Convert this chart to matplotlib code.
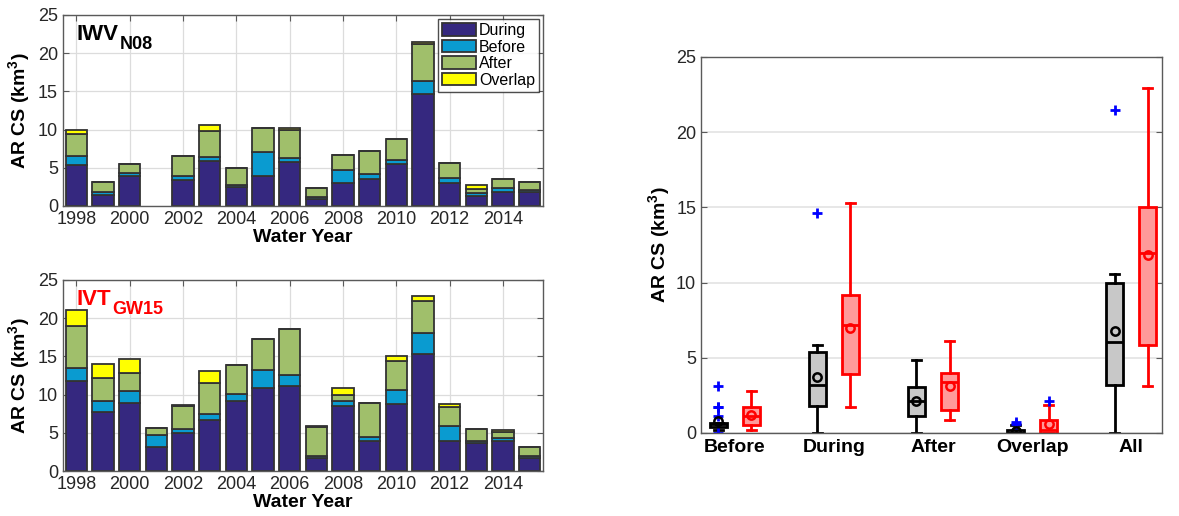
import numpy as np
import matplotlib.pyplot as plt

plt.rcParams['font.family'] = ['Liberation Sans', 'DejaVu Sans']
plt.rcParams['mathtext.fontset'] = 'custom'
plt.rcParams['mathtext.rm'] = 'Liberation Sans:bold'
plt.rcParams['mathtext.bf'] = 'Liberation Sans:bold'
plt.rcParams['mathtext.default'] = 'rm'

years = np.arange(1998, 2016)

# AR cool-season contributions per water year, IWV (N08) detection
iwv_during = [5.4, 1.45, 3.93, 0, 3.35, 5.85, 2.5, 3.93, 5.7, 0.85, 2.95, 3.5, 5.45, 14.65, 3.0, 1.3, 1.85, 1.8]
iwv_before = [1.1, 0.4, 0.45, 0, 0.6, 0.55, 0.2, 3.1, 0.6, 0.35, 1.75, 0.65, 0.6, 1.75, 0.6, 0.45, 0.55, 0.3]
iwv_after = [2.95, 1.25, 1.1, 0, 2.55, 3.4, 2.3, 3.15, 3.65, 1.1, 2.0, 3.05, 2.7, 4.85, 2.0, 0.45, 1.1, 1.1]
iwv_overlap = [0.5, 0.1, 0, 0, 0, 0.75, 0, 0, 0.3, 0, 0, 0, 0, 0.2, 0, 0.6, 0, 0]

# IVT (GW15) detection
ivt_during = [11.8, 7.7, 8.95, 3.2, 5.0, 6.65, 9.15, 10.85, 11.1, 1.75, 8.45, 3.9, 8.75, 15.3, 3.95, 3.65, 3.9, 1.7]
ivt_before = [1.7, 1.5, 1.5, 1.45, 0.55, 0.85, 0.9, 2.4, 1.4, 0.2, 0.65, 0.5, 1.85, 2.8, 2.0, 0.3, 0.4, 0.25]
ivt_after = [5.45, 2.95, 2.4, 0.95, 3.0, 4.0, 3.85, 4.0, 6.1, 3.75, 0.9, 4.5, 3.8, 4.2, 2.4, 1.5, 0.85, 1.2]
ivt_overlap = [2.15, 1.85, 1.8, 0, 0.1, 1.55, 0, 0, 0, 0.15, 0.85, 0, 0.65, 0.65, 0.4, 0.1, 0.2, 0]

parts = ['During', 'Before', 'After', 'Overlap']
colors = ['#35287f', '#0a9bd0', '#a0bf6b', '#ffff00']
categories = ['Before', 'During', 'After', 'Overlap', 'All']

edge = '#333333'
frame = '#5a5a5a'


def style_axes(ax):
    for s in ax.spines.values():
        s.set_color(frame)
        s.set_linewidth(1.0)
    ax.tick_params(direction='in', top=True, right=True, labelsize=13,
                   colors=frame, labelcolor='#262626', length=4)
    ax.set_axisbelow(True)


def stacked(ax, series):
    bottom = np.zeros(len(years))
    for vals, c, name in zip(series, colors, parts):
        vals = np.asarray(vals, float)
        # empty years get no outline
        lw = np.where(bottom + vals > 0, 1.3, 0)
        ax.bar(years, vals, 0.8, bottom=bottom, color=c, edgecolor=edge,
               linewidth=lw, label=name)
        bottom += vals
    ax.set_xlim(1997.5, 2015.5)
    ax.set_ylim(0, 25)
    ax.set_xticks(np.arange(1998, 2015, 2))
    ax.set_yticks(np.arange(0, 26, 5))
    ax.grid(True, color='#dcdcdc', linewidth=0.9)
    style_axes(ax)
    ax.set_xlabel('Water Year', fontsize=14, fontweight='bold', labelpad=1)
    ax.set_ylabel(r'AR CS (km$^3$)', fontsize=14, fontweight='bold', labelpad=4)


def label(ax, main, sub, color):
    t = ax.text(0.028, 0.955, main, transform=ax.transAxes, fontsize=16,
                fontweight='bold', color=color, va='top', ha='left')
    ax.annotate(sub, xy=(1, 0), xycoords=t, xytext=(1, -6),
                textcoords='offset points', fontsize=13, fontweight='bold',
                color=color, va='bottom', ha='left')


def box_stats(vals):
    x = np.sort(np.asarray(vals, float))
    q1, med, q3 = np.percentile(x, [25, 50, 75], method='hazen')
    iqr = q3 - q1
    lo, hi = q1 - 1.5 * iqr, q3 + 1.5 * iqr
    inside = x[(x >= lo) & (x <= hi)]
    return dict(med=med, q1=q1, q3=q3, whislo=inside.min(), whishi=inside.max(),
                mean=x.mean(), fliers=x[(x < lo) | (x > hi)])


fig = plt.figure(figsize=(11.79, 5.16), dpi=100)

ax1 = fig.add_axes([0.0534, 0.6008, 0.4071, 0.3702])
stacked(ax1, [iwv_during, iwv_before, iwv_after, iwv_overlap])
label(ax1, 'IWV', 'N08', 'black')
leg = ax1.legend(loc='upper right', fontsize=11.5, frameon=True, fancybox=False,
                 borderaxespad=0.25, labelspacing=0.1, handlelength=2.1,
                 handleheight=0.8, handletextpad=0.2, borderpad=0.25)
leg.get_frame().set_edgecolor('#222222')
leg.get_frame().set_linewidth(1.0)

ax2 = fig.add_axes([0.0534, 0.0872, 0.4071, 0.3702])
stacked(ax2, [ivt_during, ivt_before, ivt_after, ivt_overlap])
label(ax2, 'IVT', 'GW15', 'red')

# distribution of each component across water years
iwv_total = np.sum([iwv_during, iwv_before, iwv_after, iwv_overlap], axis=0)
ivt_total = np.sum([ivt_during, ivt_before, ivt_after, ivt_overlap], axis=0)
iwv_groups = [iwv_before, iwv_during, iwv_after, iwv_overlap, iwv_total]
ivt_groups = [ivt_before, ivt_during, ivt_after, ivt_overlap, ivt_total]

ax3 = fig.add_axes([0.5946, 0.1609, 0.391, 0.7287])
pos = np.arange(1, len(categories) + 1)
for groups, shift, ec, fc in [(iwv_groups, -0.167, 'black', '#c8c8c8'),
                              (ivt_groups, 0.167, 'red', '#ff9a9a')]:
    stats = [box_stats(g) for g in groups]
    ax3.bxp(stats, positions=pos + shift, widths=0.17, patch_artist=True,
            showmeans=True, capwidths=0.09,
            boxprops=dict(facecolor=fc, edgecolor=ec, linewidth=2),
            medianprops=dict(color=ec, linewidth=2),
            whiskerprops=dict(color=ec, linewidth=2),
            capprops=dict(color=ec, linewidth=2),
            meanprops=dict(marker='o', markerfacecolor='none',
                           markeredgecolor=ec, markersize=6, markeredgewidth=1.8),
            flierprops=dict(marker='+', markeredgecolor='blue', markersize=7,
                            markeredgewidth=2))
ax3.set_xlim(0.66, 5.31)
ax3.set_ylim(0, 25)
ax3.set_yticks(np.arange(0, 26, 5))
ax3.set_xticks(pos)
ax3.set_xticklabels(categories, fontsize=14, fontweight='bold')
ax3.yaxis.grid(True, color='#e3e3e3', linewidth=1.2)
style_axes(ax3)
ax3.tick_params(axis='x', length=0, pad=4, labelsize=14, labelcolor='black')
ax3.set_ylabel(r'AR CS (km$^3$)', fontsize=14, fontweight='bold', labelpad=3)

fig.savefig('out.png', dpi=100)
